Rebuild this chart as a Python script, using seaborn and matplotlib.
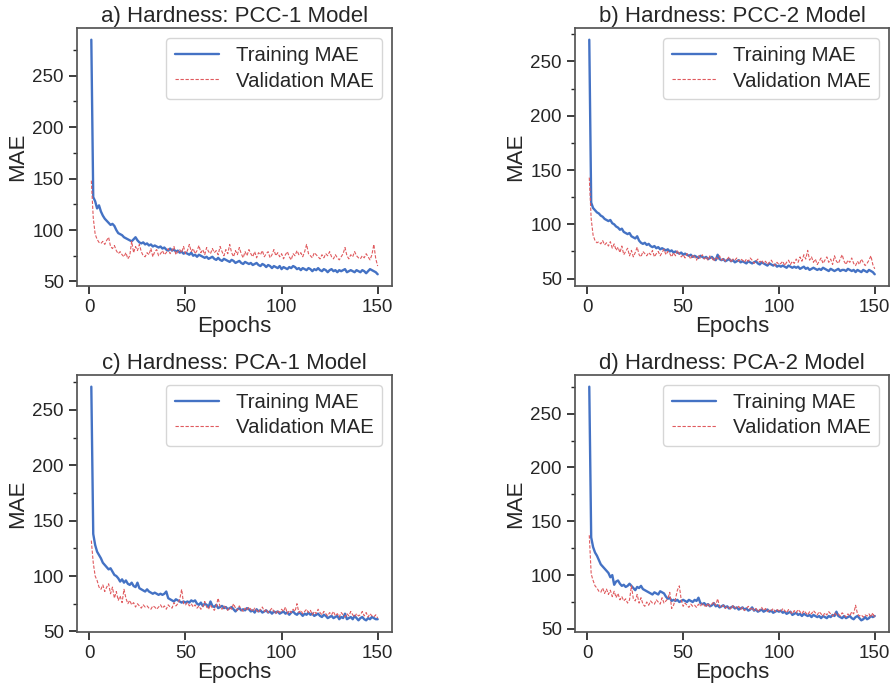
import numpy as np
import pandas as pd
import matplotlib
matplotlib.use("Agg")
import matplotlib.pyplot as plt
from matplotlib.ticker import MultipleLocator
import seaborn as sns

titles = ["a) Hardness: PCC-1 Model", "b) Hardness: PCC-2 Model",
          "c) Hardness: PCA-1 Model", "d) Hardness: PCA-2 Model"]

train_a = [285, 132, 128, 121, 124, 118, 114, 111, 109, 107,
           105, 106, 104, 100, 97, 96, 95, 93, 92, 91,
           90, 89, 91, 93, 90, 88, 87, 88, 86, 87,
           85, 86, 84, 85, 84, 83, 84, 82, 83, 81,
           80, 82, 80, 81, 79, 80, 78, 79, 77, 78,
           77, 76, 78, 75, 76, 74, 76, 75, 74, 73,
           74, 72, 73, 74, 72, 71, 73, 71, 70, 72,
           71, 70, 69, 71, 70, 68, 69, 70, 68, 67,
           69, 68, 67, 68, 66, 67, 68, 66, 65, 67,
           66, 64, 66, 65, 63, 65, 64, 63, 65, 62,
           64, 63, 62, 64, 63, 65, 64, 62, 63, 61,
           63, 62, 61, 63, 62, 60, 62, 61, 63, 61,
           60, 62, 61, 59, 61, 62, 60, 61, 59, 61,
           60, 61, 62, 59, 60, 61, 60, 59, 61, 60,
           59, 61, 60, 58, 60, 62, 61, 60, 59, 57]
val_a = [148, 112, 96, 91, 88, 87, 89, 86, 90, 93,
         84, 82, 85, 80, 77, 79, 76, 74, 78, 72,
         75, 89, 78, 84, 80, 86, 79, 75, 74, 78,
         76, 82, 74, 79, 81, 75, 77, 80, 76, 78,
         82, 77, 80, 84, 76, 79, 81, 78, 84, 77,
         80, 86, 79, 82, 77, 80, 85, 78, 81, 76,
         83, 79, 77, 82, 78, 80, 76, 84, 79, 75,
         81, 77, 86, 78, 74, 80, 76, 83, 77, 73,
         79, 75, 81, 77, 74, 79, 73, 78, 76, 80,
         74, 77, 79, 73, 76, 81, 75, 78, 74, 77,
         72, 76, 79, 74, 71, 77, 75, 80, 76, 78,
         74, 79, 86, 77, 75, 73, 78, 76, 74, 72,
         76, 73, 77, 75, 79, 74, 72, 76, 73, 71,
         74, 77, 83, 75, 72, 76, 74, 79, 75, 73,
         72, 75, 73, 77, 74, 71, 76, 86, 72, 65]

train_b = [270, 120, 115, 113, 111, 110, 108, 107, 105, 104,
           103, 104, 101, 100, 98, 97, 95, 96, 93, 92,
           91, 92, 89, 88, 87, 89, 85, 83, 82, 83,
           81, 82, 80, 79, 80, 78, 79, 77, 78, 77,
           76, 77, 75, 76, 74, 75, 74, 73, 74, 72,
           73, 72, 71, 72, 70, 71, 70, 69, 71, 70,
           69, 70, 68, 69, 70, 68, 67, 72, 68, 67,
           68, 66, 67, 68, 66, 67, 65, 66, 67, 65,
           66, 65, 64, 66, 65, 64, 65, 66, 64, 63,
           65, 64, 63, 62, 64, 63, 62, 63, 61, 62,
           61, 62, 61, 60, 62, 61, 60, 61, 60, 61,
           59, 60, 61, 59, 60, 58, 59, 60, 59, 58,
           59, 58, 60, 59, 58, 57, 59, 58, 57, 58,
           59, 57, 58, 58, 57, 59, 58, 57, 58, 56,
           58, 57, 56, 58, 57, 56, 58, 57, 56, 54]
val_b = [143, 105, 90, 85, 83, 84, 82, 85, 81, 83,
         80, 84, 78, 82, 76, 79, 74, 80, 72, 75,
         78, 71, 76, 70, 74, 79, 72, 70, 75, 73,
         71, 74, 72, 76, 70, 73, 75, 71, 74, 77,
         72, 75, 73, 70, 74, 71, 76, 73, 70, 72,
         69, 73, 71, 68, 72, 70, 67, 71, 69, 72,
         68, 70, 67, 71, 69, 66, 70, 68, 71, 67,
         69, 66, 68, 70, 65, 68, 67, 69, 66, 68,
         67, 65, 68, 66, 69, 67, 64, 66, 68, 65,
         67, 64, 66, 63, 65, 67, 64, 62, 65, 63,
         64, 66, 62, 65, 67, 63, 66, 64, 68, 65,
         70, 66, 72, 68, 76, 67, 70, 65, 68, 63,
         66, 69, 64, 67, 70, 65, 68, 63, 71, 66,
         64, 68, 72, 66, 63, 67, 65, 69, 64, 62,
         66, 63, 68, 65, 62, 64, 67, 71, 63, 59]

train_c = [271, 138, 128, 122, 119, 116, 112, 110, 108, 106,
           107, 104, 101, 100, 98, 95, 97, 94, 96, 93,
           92, 94, 91, 90, 94, 89, 88, 87, 86, 88,
           86, 85, 84, 85, 84, 83, 84, 83, 84, 86,
           80, 79, 78, 77, 79, 78, 77, 76, 77, 76,
           77, 76, 78, 77, 78, 75, 74, 76, 73, 75,
           74, 72, 77, 73, 72, 74, 71, 72, 73, 71,
           72, 70, 71, 72, 70, 68, 70, 71, 69, 70,
           69, 71, 70, 68, 69, 67, 70, 68, 69, 67,
           68, 69, 67, 68, 66, 68, 67, 68, 66, 67,
           68, 66, 67, 65, 67, 68, 66, 65, 67, 66,
           64, 66, 65, 67, 65, 66, 64, 65, 66, 64,
           63, 65, 64, 62, 63, 64, 62, 63, 64, 61,
           63, 62, 66, 61, 62, 63, 61, 64, 62, 60,
           62, 63, 61, 60, 62, 61, 63, 62, 61, 61]
val_c = [132, 112, 100, 96, 90, 88, 92, 86, 90, 93,
         84, 90, 80, 86, 78, 82, 76, 88, 80, 75,
         78, 74, 76, 72, 75, 73, 71, 74, 72, 73,
         71, 70, 73, 72, 70, 72, 74, 71, 73, 70,
         74, 72, 71, 76, 73, 75, 79, 88, 75, 74,
         76, 73, 75, 72, 74, 71, 73, 70, 72, 77,
         72, 70, 74, 71, 69, 73, 80, 72, 70, 73,
         71, 69, 72, 70, 75, 71, 69, 73, 70, 68,
         71, 69, 72, 70, 68, 71, 69, 67, 70, 72,
         68, 70, 67, 69, 71, 68, 66, 69, 67, 70,
         68, 72, 66, 69, 67, 70, 68, 75, 67, 69,
         66, 68, 70, 67, 69, 65, 68, 66, 70, 67,
         65, 68, 66, 64, 67, 65, 68, 64, 66, 63,
         67, 65, 63, 66, 64, 68, 65, 63, 66, 64,
         65, 68, 64, 67, 63, 66, 64, 63, 65, 62]

train_d = [275, 135, 126, 121, 118, 114, 110, 108, 106, 104,
           102, 98, 100, 91, 94, 95, 92, 90, 91, 89,
           90, 92, 90, 88, 86, 89, 88, 90, 87, 86,
           85, 84, 83, 82, 84, 83, 82, 85, 84, 83,
           80, 78, 79, 76, 77, 76, 77, 75, 76, 77,
           76, 75, 77, 76, 75, 77, 76, 79, 74, 73,
           74, 72, 73, 71, 72, 74, 71, 72, 70, 71,
           72, 70, 71, 69, 70, 71, 69, 70, 68, 69,
           70, 68, 69, 67, 68, 70, 67, 68, 66, 67,
           68, 66, 67, 68, 66, 67, 65, 66, 67, 66,
           67, 65, 66, 64, 65, 66, 63, 64, 65, 63,
           64, 62, 64, 63, 62, 63, 61, 63, 62, 61,
           62, 60, 62, 61, 60, 62, 61, 63, 62, 66,
           62, 61, 60, 62, 60, 61, 62, 60, 59, 61,
           62, 60, 58, 59, 61, 59, 60, 62, 61, 62]
val_d = [137, 101, 95, 90, 88, 85, 84, 88, 83, 87,
         82, 86, 80, 85, 79, 83, 77, 80, 76, 78,
         74, 77, 90, 78, 76, 82, 74, 79, 73, 71,
         75, 72, 76, 74, 73, 77, 75, 73, 79, 74,
         76, 78, 84, 69, 72, 78, 86, 90, 77, 71,
         74, 72, 70, 73, 71, 72, 70, 73, 71, 74,
         72, 70, 74, 71, 73, 75, 72, 78, 71, 70,
         72, 69, 71, 70, 68, 72, 70, 69, 71, 68,
         70, 67, 69, 71, 68, 70, 67, 69, 66, 68,
         70, 67, 69, 66, 68, 67, 69, 66, 68, 67,
         66, 69, 67, 65, 68, 66, 64, 67, 65, 68,
         66, 64, 67, 65, 63, 66, 64, 67, 65, 63,
         66, 64, 62, 65, 63, 66, 64, 62, 65, 63,
         64, 62, 65, 63, 61, 64, 62, 66, 64, 72,
         64, 62, 63, 61, 63, 62, 64, 61, 65, 60]

trains = [train_a, train_b, train_c, train_d]
vals = [val_a, val_b, val_c, val_d]

sns.set_theme(style="ticks")
plt.rcParams["font.family"] = ["Liberation Sans", "DejaVu Sans"]
plt.rcParams["font.size"] = 14

W, H = 896, 686
fig = plt.figure(figsize=(W / 100, H / 100), dpi=100)

boxes = [(77, 28, 392, 286), (575, 28, 889, 286),
         (77, 375, 392, 632), (575, 375, 889, 632)]

for (l, t, r, b), title, tr, va in zip(boxes, titles, trains, vals):
    ax = fig.add_axes([l / W, 1 - b / H, (r - l) / W, (b - t) / H])
    epochs = np.arange(1, len(tr) + 1)
    df = pd.DataFrame({"Epochs": epochs, "train": tr, "val": va})
    sns.lineplot(data=df, x="Epochs", y="train", ax=ax, color="#4472C4",
                 lw=1.7, label="Training MAE")
    sns.lineplot(data=df, x="Epochs", y="val", ax=ax, color="#E05A5E",
                 lw=0.8, ls=(0, (3, 1.5)), label="Validation MAE")
    ax.set_title(title, fontsize=16, pad=4, color="#262626")
    ax.set_xlabel("Epochs", fontsize=16, labelpad=0)
    ax.set_ylabel("MAE", fontsize=16, labelpad=3)
    ax.set_xticks([0, 50, 100, 150])
    ax.yaxis.set_major_locator(MultipleLocator(50))
    ax.yaxis.set_minor_locator(MultipleLocator(25))
    ax.tick_params(axis="both", labelsize=13.5)
    ax.tick_params(axis="y", which="minor", length=3)
    for s in ax.spines.values():
        s.set_color("#555555")
    ax.legend(loc="upper right", fontsize=14.7, handlelength=2.2,
              borderpad=0.4, labelspacing=0.3, handletextpad=0.8)

fig.savefig("out.png", dpi=100)
